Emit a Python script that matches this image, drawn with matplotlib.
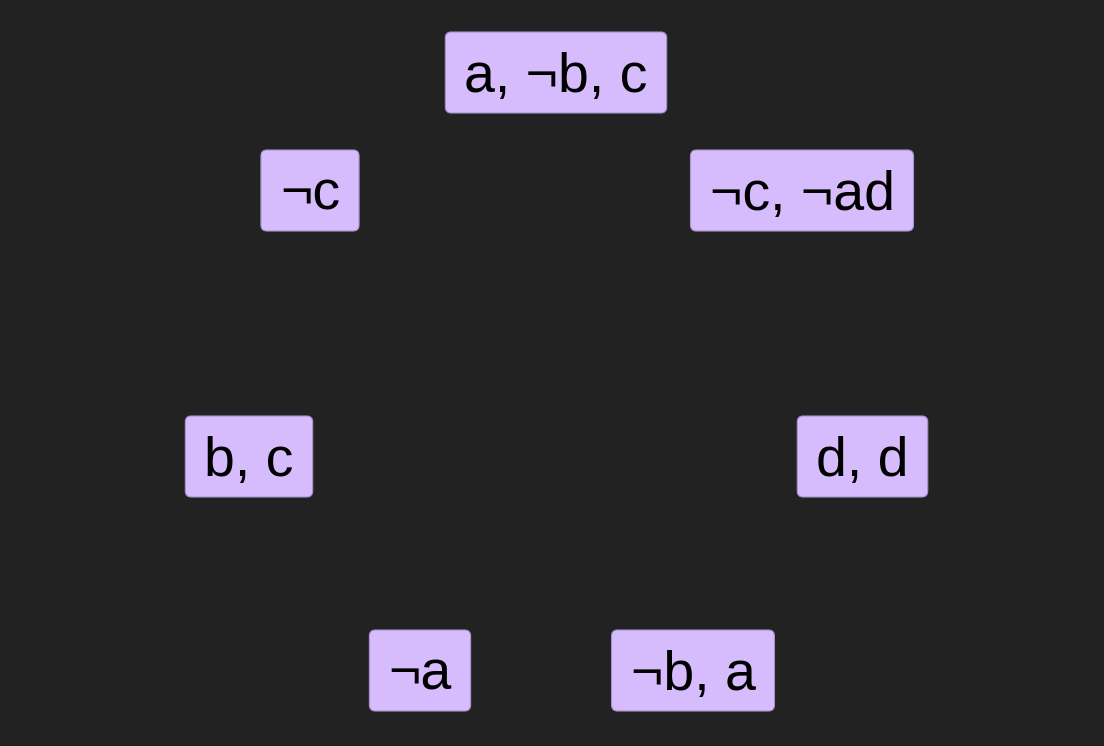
import matplotlib
matplotlib.use("Agg")
import matplotlib.pyplot as plt
from matplotlib.patches import FancyBboxPatch

# node labels and their centres (pixel space of the 1104x746 canvas)
labels = ["a, ¬b, c", "¬c", "¬c, ¬ad", "b, c", "d, d", "¬a", "¬b, a"]
node_x = [556, 310, 802, 249, 862.5, 420, 693]
node_y = [72.5, 190.5, 190.5, 456.5, 456.5, 670.5, 670.5]

BG = "#222222"
FILL = "#d7bcfd"
EDGE = "#a893cc"
PAD_X = 19
BOX_H = 81

fig = plt.figure(figsize=(11.04, 7.46), dpi=100, facecolor=BG)
ax = fig.add_axes([0, 0, 1, 1])
ax.set_facecolor(BG)
ax.set_xlim(0, 1104)
ax.set_ylim(746, 0)
ax.axis("off")

texts = []
for lab, x, y in zip(labels, node_x, node_y):
    t = ax.text(x, y + 19.5, lab, ha="center", va="baseline", fontsize=40,
                family=["Liberation Sans", "DejaVu Sans"], color="black", zorder=3)
    texts.append(t)

fig.canvas.draw()
renderer = fig.canvas.get_renderer()
for t, x, y in zip(texts, node_x, node_y):
    w = t.get_window_extent(renderer).width
    bw = w + 2 * PAD_X
    box = FancyBboxPatch((x - bw / 2, y - BOX_H / 2), bw, BOX_H,
                         boxstyle="round,pad=0,rounding_size=6",
                         facecolor=FILL, edgecolor=EDGE, linewidth=0.8, zorder=2)
    ax.add_patch(box)

fig.savefig("out.png", dpi=100, facecolor=BG)
